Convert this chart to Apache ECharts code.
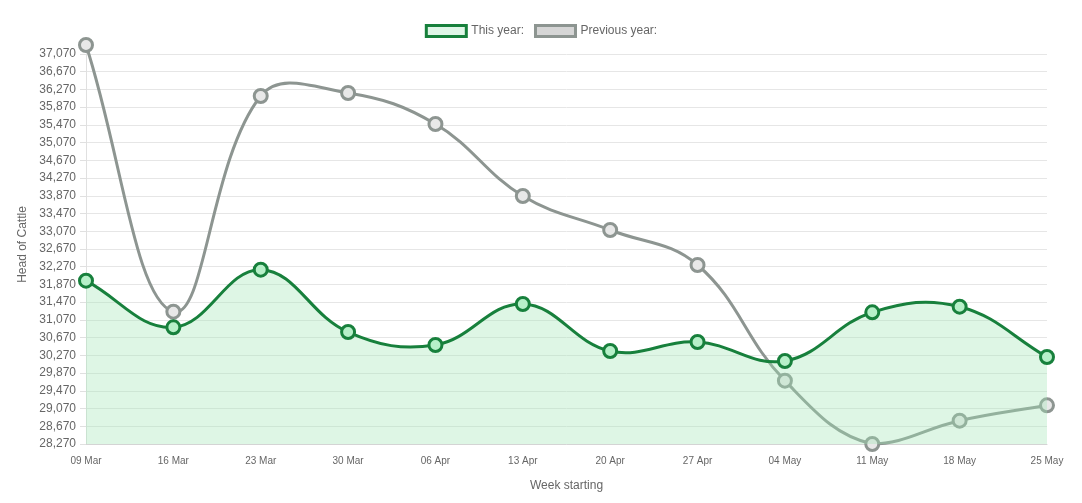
<!DOCTYPE html>
<html>
<head>
<meta charset="utf-8">
<script src="https://cdn.jsdelivr.net/npm/echarts@6/dist/echarts.min.js"></script>
<style>
  html, body { margin: 0; padding: 0; background: #fff; }
  #chart_div { width: 1082px; height: 503px; }
</style>
</head>
<body>
<div id="chart_div"></div>
<script>
// 数据
var weeks = ['09 Mar', '16 Mar', '23 Mar', '30 Mar', '06 Apr', '13 Apr', '20 Apr', '27 Apr', '04 May', '11 May', '18 May', '25 May'];
var thisYear = [31955, 30903, 32203, 30797, 30504, 31429, 30368, 30572, 30143, 31241, 31368, 30233];
var previousYear = [37273, 31255, 36122, 36190, 35490, 33866, 33099, 32309, 29699, 28270, 28796, 29143];
var seriesNames = ['This year:', 'Previous year:'];
var yStep = 400;
// 轴范围取数据最小/最大值
var yMin = Math.min.apply(null, thisYear.concat(previousYear));
var yMax = Math.max.apply(null, thisYear.concat(previousYear));

var fontFamily = '"Liberation Sans", Arial, Helvetica, sans-serif';
var green = '#17803c', greenFill = '#b7f0c9', greenArea = 'rgba(160, 230, 180, 0.35)';
var grey = '#8d9591', greyFill = '#e8e8e8';
var tension = 0.4;

/*
 * 曲线路径 (tension 样条, 控制点限制在绘图区内)
 */
function curvePath(values, withArea) {
	return function (params, api) {
		if (params.dataIndex !== 0) return;
		var cs = params.coordSys;
		var top = cs.y, bottom = cs.y + cs.height;
		var pts = values.map(function (v, i) { return api.coord([i, v]); });
		var cps = pts.map(function (cur, i) {
			var prev = pts[i - 1] || cur, next = pts[i + 1] || cur;
			var d01 = Math.hypot(cur[0] - prev[0], cur[1] - prev[1]);
			var d12 = Math.hypot(next[0] - cur[0], next[1] - cur[1]);
			var s01 = d01 / (d01 + d12) || 0, s12 = d12 / (d01 + d12) || 0;
			var fa = tension * s01, fb = tension * s12;
			var clampY = function (y) { return Math.max(top, Math.min(bottom, y)); };
			return {
				inX: cur[0] - fa * (next[0] - prev[0]),
				inY: clampY(cur[1] - fa * (next[1] - prev[1])),
				outX: cur[0] + fb * (next[0] - prev[0]),
				outY: clampY(cur[1] + fb * (next[1] - prev[1]))
			};
		});
		var d = 'M' + pts[0][0] + ' ' + pts[0][1];
		for (var i = 1; i < pts.length; i++) {
			d += ' C' + cps[i - 1].outX + ' ' + cps[i - 1].outY + ' ' +
				cps[i].inX + ' ' + cps[i].inY + ' ' + pts[i][0] + ' ' + pts[i][1];
		}
		var children = [];
		if (withArea) {
			var last = pts[pts.length - 1];
			children.push({
				type: 'path',
				shape: { pathData: d + ' L' + last[0] + ' ' + bottom + ' L' + pts[0][0] + ' ' + bottom + ' Z' },
				style: { fill: greenArea, stroke: null }
			});
		}
		children.push({
			type: 'path',
			shape: { pathData: d },
			style: { fill: 'none', stroke: withArea ? green : grey, lineWidth: 3 }
		});
		return { type: 'group', children: children };
	};
}

var chart = echarts.init(document.getElementById('chart_div'));
var option = {
	animation: false,
	textStyle: { fontFamily: fontFamily },
	legend: {
		top: 19,
		left: 'center',
		itemWidth: 40,
		itemHeight: 11,
		itemGap: 10,
		textStyle: { color: '#666', fontSize: 12, fontFamily: fontFamily },
		data: [
			{ name: seriesNames[0], icon: 'rect', itemStyle: { color: '#dff6e7', borderColor: green, borderWidth: 3 } },
			{ name: seriesNames[1], icon: 'rect', itemStyle: { color: '#d6d6d6', borderColor: grey, borderWidth: 3 } }
		]
	},
	grid: {
		left: 86,
		right: 35,
		top: 45,
		bottom: 59
	},
	xAxis: {
		type: 'category',
		boundaryGap: false,
		data: weeks,
		name: 'Week starting',
		nameLocation: 'middle',
		nameGap: 36,
		nameTextStyle: { color: '#666', fontSize: 12 },
		axisLine: { lineStyle: { color: '#d4d4d4' } },
		axisTick: { show: false },
		axisLabel: { color: '#666', fontSize: 10, margin: 12, interval: 0 },
		splitLine: { show: false }
	},
	yAxis: {
		type: 'value',
		min: yMin,
		max: yMax,
		interval: yStep,
		name: 'Head of Cattle',
		nameLocation: 'middle',
		nameGap: 53,
		nameTextStyle: { color: '#666', fontSize: 12 },
		axisLine: { show: true, lineStyle: { color: '#e0e0e0' } },
		axisTick: { show: true, length: 6, lineStyle: { color: '#e0e0e0' } },
		axisLabel: {
			color: '#666',
			fontSize: 12,
			margin: 10,
			showMaxLabel: false,
			formatter: function (v) { return v.toLocaleString('en-US'); }
		},
		splitLine: { showMaxLine: false, lineStyle: { color: '#e6e6e6' } }
	},
	series: [{
		name: 'prev_line',
		type: 'custom',
		data: previousYear,
		renderItem: curvePath(previousYear, false),
		silent: true,
		z: 1
	}, {
		name: seriesNames[1],
		type: 'scatter',
		data: previousYear,
		symbol: 'circle',
		symbolSize: 13,
		itemStyle: { color: greyFill, borderColor: grey, borderWidth: 3, opacity: 1 },
		clip: false,
		z: 2
	}, {
		name: 'this_line',
		type: 'custom',
		data: thisYear,
		renderItem: curvePath(thisYear, true),
		silent: true,
		z: 3
	}, {
		name: seriesNames[0],
		type: 'scatter',
		data: thisYear,
		symbol: 'circle',
		symbolSize: 13,
		itemStyle: { color: greenFill, borderColor: green, borderWidth: 3, opacity: 1 },
		clip: false,
		z: 4
	}]
};
chart.setOption(option, true);
</script>
</body>
</html>
